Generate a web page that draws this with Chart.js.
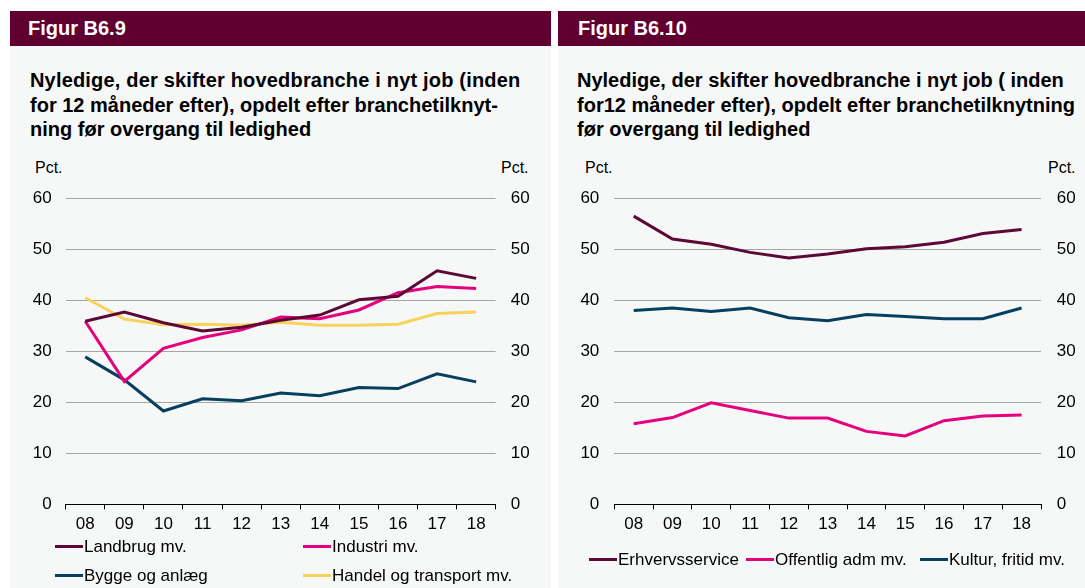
<!DOCTYPE html>
<html>
<head>
<meta charset="utf-8">
<script src="https://cdn.jsdelivr.net/npm/chart.js@4/dist/chart.umd.min.js"></script>
<style>
  html, body { margin: 0; padding: 0; background: #ffffff; }
  body { width: 1085px; height: 588px; position: relative; overflow: hidden; font-family: "Liberation Sans", Arial, sans-serif; }
  .panel { position: absolute; top: 11px; bottom: 0; background: #f6f8f8; }
  .hdr { position: absolute; left: 0; right: 0; top: 0; height: 35px; background: #5f0030; color: #fff; font-weight: bold; font-size: 20px; line-height: 35px; }
  .title { position: absolute; font-weight: bold; font-size: 20px; line-height: 24.5px; color: #000; white-space: nowrap; }
  .unit { position: absolute; font-size: 16px; color: #000; }
  .cv { position: absolute; }
  .leg { position: absolute; font-size: 17px; color: #000; white-space: nowrap; height: 20px; line-height: 20px; }
  .leg span.sw { display: inline-block; width: 28px; height: 3px; vertical-align: middle; margin-right: 1px; position: relative; top: -1px; }
</style>
</head>
<body>
<div class="panel" style="left:10px; width:541px;">
  <div class="hdr" style="padding-left:18px;">Figur B6.9</div>
</div>
<div class="panel" style="left:558px; width:527px;">
  <div class="hdr" style="padding-left:20px;">Figur B6.10</div>
</div>

<div class="title" style="left:30px; top:68px;"><span style="letter-spacing:0.18px">Nyledige, der skifter hovedbranche i nyt job (inden</span><br>for 12 måneder efter), opdelt efter branchetilknyt-<br>ning før overgang til ledighed</div>
<div class="title" style="left:577px; top:68px;">Nyledige, der skifter hovedbranche i nyt job ( inden<br>for12 måneder efter), opdelt efter branchetilknytning<br>før overgang til ledighed</div>

<div class="unit" style="left:35px; top:159px;">Pct.</div>
<div class="unit" style="left:501px; top:159px;">Pct.</div>
<div class="unit" style="left:585px; top:159px;">Pct.</div>
<div class="unit" style="left:1048px; top:159px;">Pct.</div>

<canvas id="c1" class="cv" width="541" height="360" style="left:10px; top:180px;"></canvas>
<canvas id="c2" class="cv" width="527" height="360" style="left:558px; top:180px;"></canvas>

<div id="leg1"></div>
<div id="leg2"></div>

<script>
// ---- data ----
const years = ['08', '09', '10', '11', '12', '13', '14', '15', '16', '17', '18'];
const yTicks = [0, 10, 20, 30, 40, 50, 60];

const landbrug  = [35.9, 37.7, 35.6, 34.0, 34.7, 36.1, 37.1, 40.1, 40.8, 45.8, 44.3];
const industri  = [35.9, 24.1, 30.6, 32.7, 34.2, 36.7, 36.4, 38.1, 41.5, 42.7, 42.3];
const bygge     = [28.9, 24.4, 18.3, 20.7, 20.3, 21.8, 21.3, 22.9, 22.7, 25.6, 24.0];
const handel    = [40.5, 36.3, 35.2, 35.3, 35.1, 35.7, 35.1, 35.1, 35.3, 37.4, 37.7];

const erhverv   = [56.5, 52.0, 51.0, 49.4, 48.3, 49.1, 50.1, 50.5, 51.4, 53.1, 53.9];
const offentlig = [15.8, 17.0, 19.9, 18.4, 16.9, 16.9, 14.3, 13.4, 16.4, 17.3, 17.5];
const kultur    = [38.0, 38.5, 37.8, 38.5, 36.6, 36.0, 37.2, 36.8, 36.4, 36.4, 38.5];

const names1 = ['Landbrug mv.', 'Industri mv.', 'Bygge og anlæg', 'Handel og transport mv.'];
const names2 = ['Erhvervsservice', 'Offentlig adm mv.', 'Kultur, fritid mv.'];

// ---- styles ----
const MAROON = '#5c0a35', PINK = '#e5007d', NAVY = '#073f5e', YELLOW = '#f7d25c';
const FONT = { family: "'Liberation Sans', Arial, sans-serif", size: 17 };

function ds(label, data, color) {
  return { label, data, borderColor: color, backgroundColor: color, borderWidth: 3,
           pointRadius: 0, tension: 0, fill: false, yAxisID: 'y' };
}

function noPad(s) { s.paddingTop = 0; s.paddingBottom = 0; s.paddingLeft = 0; s.paddingRight = 0; }

function makeChart(id, datasets, leftW, rightW, padL, padR) {
  return new Chart(document.getElementById(id), {
    type: 'line',
    data: { labels: years, datasets },
    options: {
      responsive: false, animation: false, devicePixelRatio: 1,
      layout: { autoPadding: false, padding: { top: 18.3, bottom: 0, left: 0, right: 0 } },
      plugins: { legend: { display: false }, tooltip: { enabled: false } },
      scales: {
        x: {
          offset: true,
          grid: { offset: true, drawOnChartArea: false, drawTicks: true, tickLength: 5, color: '#000', lineWidth: 1 },
          border: { display: true, color: '#000', width: 1 },
          ticks: { font: FONT, color: '#000', padding: 5, maxRotation: 0, autoSkip: false },
          afterFit: s => { s.height = 35.7; noPad(s); }
        },
        y: {
          position: 'left', min: 0, max: 60,
          afterBuildTicks: s => { s.ticks = yTicks.map(v => ({ value: v })); },
          grid: { drawTicks: false, color: c => c.tick && c.tick.value === 0 ? 'rgba(0,0,0,0)' : '#a6a6a6', lineWidth: 1 },
          border: { display: false },
          ticks: { font: FONT, color: '#000', padding: padL },
          afterFit: s => { s.width = leftW; noPad(s); }
        },
        y2: {
          position: 'right', min: 0, max: 60,
          afterBuildTicks: s => { s.ticks = yTicks.map(v => ({ value: v })); },
          grid: { display: false, drawTicks: false },
          border: { display: false },
          ticks: { font: FONT, color: '#000', padding: padR },
          afterFit: s => { s.width = rightW; noPad(s); }
        }
      }
    }
  });
}

makeChart('c1', [
  ds(names1[0], landbrug, MAROON),
  ds(names1[1], industri, PINK),
  ds(names1[2], bygge, NAVY),
  ds(names1[3], handel, YELLOW)
], 55.7, 55.3, 14, 15);

makeChart('c2', [
  ds(names2[0], erhverv, MAROON),
  ds(names2[1], offentlig, PINK),
  ds(names2[2], kultur, NAVY)
], 56.3, 44, 15, 15.7);

// ---- HTML legends ----
function legItem(parent, text, color, x, y) {
  const d = document.createElement('div');
  d.className = 'leg';
  d.style.left = x + 'px';
  d.style.top = (y - 10) + 'px';
  d.innerHTML = '<span class="sw" style="background:' + color + '"></span>' + text;
  parent.appendChild(d);
}
const l1 = document.getElementById('leg1');
legItem(l1, names1[0], MAROON, 55, 547);
legItem(l1, names1[1], PINK, 303, 547);
legItem(l1, names1[2], NAVY, 55, 576);
legItem(l1, names1[3], YELLOW, 303, 576);
const l2 = document.getElementById('leg2');
legItem(l2, names2[0], MAROON, 589, 560);
legItem(l2, names2[1], PINK, 746, 560);
legItem(l2, names2[2], NAVY, 920, 560);
</script>
</body>
</html>
